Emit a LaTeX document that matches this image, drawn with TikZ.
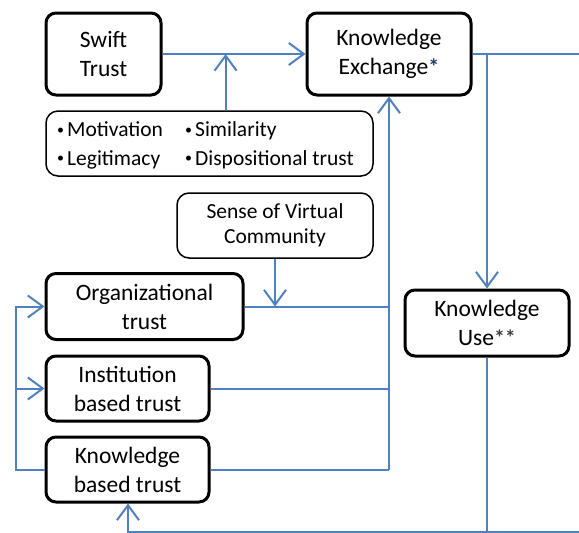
\documentclass[tikz,border=0pt]{standalone}
\usepackage{fontspec}
\setmainfont{Carlito}
\usetikzlibrary{arrows.meta}
\definecolor{linkblue}{HTML}{4F81BD}
\definecolor{stardark}{HTML}{1F3A5F}
\tikzset{
  mainbox/.style={draw=black, line width=3pt, rounded corners=10pt, align=center,
    inner sep=0pt, font=\fontsize{23.5}{29}\selectfont},
  softbox/.style={draw=black, line width=1.5pt, rounded corners=12pt, align=center,
    inner sep=0pt, font=\fontsize{21.5}{25}\selectfont},
  item/.style={anchor=base west, inner sep=0pt, font=\fontsize{21.5}{25}\selectfont},
  link/.style={draw=linkblue, line width=2pt},
  arr/.style={link, -{Straight Barb[length=15pt,width=22pt,line width=2pt]}},
}
\newcommand{\smallstar}[1]{{\fontsize{22}{22}\selectfont\bfseries\textcolor{#1}{*}}}
\newcommand{\dotmark}{\raisebox{2.2pt}{\fontsize{14}{14}\selectfont\textbullet}\hspace{3pt}}
\begin{document}
\begin{tikzpicture}[x=1pt,y=-1pt]
  \useasboundingbox (0,0) rectangle (579,533);

  % main concept boxes
  \node[mainbox, minimum width=115pt, minimum height=82pt] (swift) at (103.5,54) {Swift\\Trust};
  \node[mainbox, minimum width=164pt, minimum height=82pt] (ke) at (389,54) {Knowledge\\Exchange\smallstar{stardark}};
  \node[mainbox, minimum width=164pt, minimum height=66pt] (ku) at (487,323) {Knowledge\\Use\smallstar{black!75}\smallstar{black!75}};
  \node[mainbox, minimum width=197pt, minimum height=66pt] (org) at (144.5,306.5) {Organizational\\trust};
  \node[mainbox, minimum width=163pt, minimum height=65pt] (inst) at (127.5,388.5) {Institution\\based trust};
  \node[mainbox, minimum width=163pt, minimum height=65pt] (kb) at (127.5,469.5) {Knowledge\\based trust};

  % antecedents of swift trust
  \node[softbox, minimum width=327pt, minimum height=65pt] (ante) at (209.5,143.5) {};
  \node[item] (mot) at (57,136.7) {\dotmark Motivation};
  \node[item] (sim) at (185,136.7) {\dotmark Similarity};
  \node[item] (leg) at (57,165) {\dotmark Legitimacy};
  \node[item] (dis) at (185,165) {\dotmark Dispositional trust};

  % moderator
  \node[softbox, minimum width=196pt, minimum height=65pt] (svc) at (275,225.5) {Sense of Virtual\\Community};

  % junction and edge points
  \coordinate (j1) at (225.6,54);
  \coordinate (kx) at (487,54);
  \coordinate (redge) at (579,54);
  \coordinate (spine) at (389,469.5);
  \coordinate (lx) at (15.5,469.5);
  \coordinate (bedge) at (579,532);
  \coordinate (bl) at (128,532);

  % swift trust to knowledge exchange
  \draw[arr] (swift.east) -- (ke.west);
  \draw[arr] (ante.north -| j1) -- (j1);

  % knowledge exchange onward
  \draw[link] (ke.east) -- (redge);
  \draw[arr] (kx) -- (ku.north);

  % trust types feeding knowledge exchange
  \draw[link] (org.east) -- (org.east -| spine);
  \draw[link] (inst.east) -- (inst.east -| spine);
  \draw[link] (kb.east) -- (spine);
  \draw[arr] (spine) -- (ke.south);
  \draw[arr] (svc.south) -- (svc.south |- org.east);

  % knowledge based trust loop on the left
  \draw[arr] (kb.west) -- (lx) |- (org.west);
  \draw[arr] (lx |- inst.west) -- (inst.west);

  % knowledge use feedback
  \draw[link] (ku.south) -- (ku.south |- bedge);
  \draw[arr] (bedge) -- (bl) -- (bl |- kb.south);
\end{tikzpicture}
\end{document}
